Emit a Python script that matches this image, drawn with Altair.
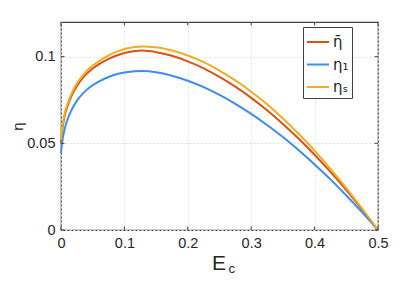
import altair as alt
import pandas as pd

E = [0, 0.002, 0.005, 0.01, 0.017, 0.025, 0.035, 0.047, 0.06, 0.075, 0.09, 0.105, 0.128,
     0.15, 0.175, 0.2, 0.225, 0.25, 0.275, 0.3, 0.325, 0.35, 0.375, 0.4, 0.425, 0.45, 0.475, 0.5]
eta_bar = [0.050, 0.0575, 0.0645, 0.0712, 0.0777, 0.0830, 0.0880, 0.0923, 0.0957, 0.0987, 0.1010, 0.1025, 0.1035,
           0.1026, 0.1005, 0.0973, 0.0933, 0.0884, 0.0827, 0.0762, 0.0691, 0.0612, 0.0526, 0.0434, 0.0335, 0.0230, 0.0118, 0.0]
eta_1 = [0.0445, 0.051, 0.057, 0.0635, 0.0695, 0.0745, 0.0790, 0.0828, 0.0857, 0.0883, 0.0901, 0.0912, 0.0917,
         0.0910, 0.0890, 0.0861, 0.0824, 0.0779, 0.0728, 0.0670, 0.0606, 0.0536, 0.0460, 0.0378, 0.0292, 0.0199, 0.0102, 0.0]
eta_s = [0.052, 0.059, 0.066, 0.0725, 0.0790, 0.0845, 0.0895, 0.0940, 0.0975, 0.1008, 0.1032, 0.1049, 0.1059,
         0.1054, 0.1036, 0.1007, 0.0968, 0.0920, 0.0863, 0.0798, 0.0725, 0.0643, 0.0554, 0.0458, 0.0353, 0.0242, 0.0124, 0.0]

names = ["\u03b7\u0304", "\u03b7\u2081", "\u03b7\u209b"]
colors = ["#D95319", "#3C8CF5", "#F0AE1E"]

x_ticks = [0, 0.1, 0.2, 0.3, 0.4, 0.5]
y_ticks = [0, 0.05, 0.1]

rows = []
for name, ys in zip(names, [eta_bar, eta_1, eta_s]):
    for e, v in zip(E, ys):
        rows.append({"E": e, "eta": v, "series": name})
df = pd.DataFrame(rows)

W, H = 317, 208
FONT = "Liberation Sans"
TXT = "#262626"

xscale = alt.Scale(domain=[0, 0.5], nice=False)
yscale = alt.Scale(domain=[0, 0.12], nice=False)

lines = alt.Chart(df).mark_line(strokeWidth=2, interpolate="monotone").encode(
    x=alt.X("E:Q", scale=xscale,
            axis=alt.Axis(values=x_ticks, format="~g", title=None, grid=True,
                          tickSize=0, labelPadding=6, domain=False, labelFlush=False)),
    y=alt.Y("eta:Q", scale=yscale,
            axis=alt.Axis(values=y_ticks, format="~g", title="\u03b7", grid=True,
                          tickSize=0, labelPadding=6, domain=False, labelFlush=False,
                          titleFontSize=15, titleFontWeight="normal", titlePadding=1)),
    color=alt.Color("series:N", scale=alt.Scale(domain=names, range=colors),
                    sort=names,
                    legend=alt.Legend(title=None, orient="none", legendX=242, legendY=5,
                                      symbolType="stroke", symbolSize=484,
                                      symbolStrokeWidth=2, padding=3, rowPadding=2.5,
                                      labelOffset=3, labelFontSize=15,
                                      labelFont="DejaVu Sans",
                                      strokeColor="#404040", fillColor="white",
                                      labelColor=TXT)),
)

xt = pd.DataFrame({"v": x_ticks})
yt = pd.DataFrame({"v": y_ticks})
tl = 3.5
tick_bottom = alt.Chart(xt).mark_rule(color="#404040").encode(
    x=alt.X("v:Q", scale=xscale), y=alt.value(H), y2=alt.value(H - tl))
tick_top = alt.Chart(xt).mark_rule(color="#404040").encode(
    x=alt.X("v:Q", scale=xscale), y=alt.value(0), y2=alt.value(tl))
tick_left = alt.Chart(yt).mark_rule(color="#404040").encode(
    y=alt.Y("v:Q", scale=yscale), x=alt.value(0), x2=alt.value(tl))
tick_right = alt.Chart(yt).mark_rule(color="#404040").encode(
    y=alt.Y("v:Q", scale=yscale), x=alt.value(W), x2=alt.value(W - tl))

title_df = pd.DataFrame({"t": ["E"]})
title_E = alt.Chart(title_df).mark_text(fontSize=21, font=FONT, color=TXT,
                                        align="center", baseline="alphabetic").encode(
    text="t:N", x=alt.value(158), y=alt.value(248))
sub_df = pd.DataFrame({"t": ["c"]})
title_c = alt.Chart(sub_df).mark_text(fontSize=13, font=FONT, color=TXT,
                                      align="left", baseline="alphabetic").encode(
    text="t:N", x=alt.value(167.5), y=alt.value(251))

chart = alt.layer(lines, tick_bottom, tick_top, tick_left, tick_right, title_E, title_c).properties(
    width=W, height=H,
    autosize=alt.AutoSizeParams(type="none"),
    padding={"left": 53, "top": 14, "right": 29, "bottom": 50},
).configure_view(stroke="#404040", strokeWidth=1.2).configure_axis(
    labelFont=FONT, titleFont=FONT, labelFontSize=14.5, labelColor=TXT, titleColor=TXT,
    gridColor="#dedede", gridDash=[2, 2], gridWidth=1,
).configure_legend(labelFont="DejaVu Sans")

chart.save("out.html", embed_options={"renderer": "svg", "actions": False})
